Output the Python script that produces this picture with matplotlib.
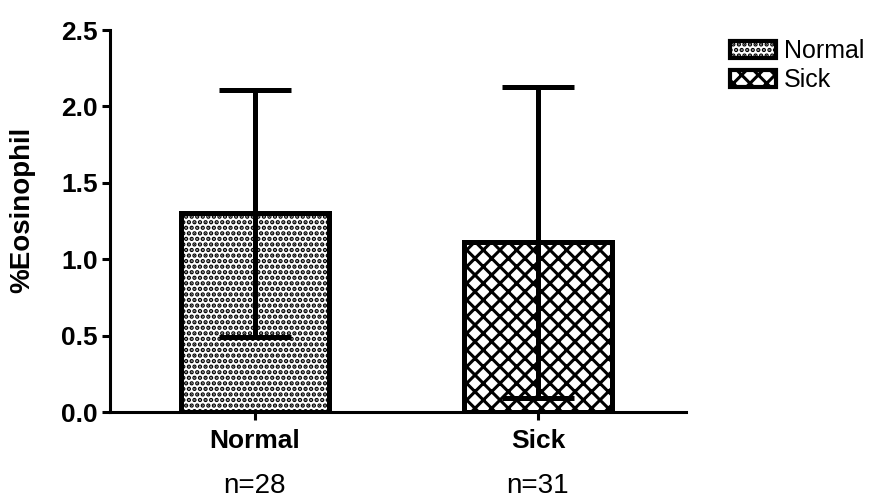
import matplotlib
matplotlib.use("Agg")
import matplotlib.pyplot as plt
from matplotlib.patches import Patch
from matplotlib.transforms import blended_transform_factory

categories = ["Normal", "Sick"]
means = [1.30, 1.11]
sds = [0.81, 1.02]
n_labels = ["n=28", "n=31"]
hatches = ["...", "xx"]
yticks = [0.0, 0.5, 1.0, 1.5, 2.0, 2.5]
ytick_labels = ["0.0", "0.5", "1.0", "1.5", "2.0", "2.5"]
ylabel = "%Eosinophil"

plt.rcParams["font.family"] = ["Liberation Sans", "DejaVu Sans"]
plt.rcParams["hatch.linewidth"] = 2.2
plt.rcParams["hatch.color"] = "black"

fig = plt.figure(figsize=(8.88, 5.04), dpi=100)
ax = fig.add_axes([110/888, 1-412/504, 576/888, 382/504])

x = list(range(len(categories)))
for xi, m, h in zip(x, means, hatches):
    ax.bar(xi, m, width=0.52, color="white", edgecolor="black",
           linewidth=3.6, hatch=h, zorder=2)
ax.errorbar(x, means, yerr=sds, fmt="none", ecolor="black",
            elinewidth=3.6, capsize=26, capthick=3.6, zorder=3)

ax.set_xlim(-0.512, 1.523)
ax.set_ylim(0, 2.5)
ax.set_yticks(yticks)
ax.set_yticklabels(ytick_labels, fontsize=19, fontweight="bold")
ax.set_xticks(x)
ax.set_xticklabels(categories, fontsize=19, fontweight="bold")

for s in ["top", "right"]:
    ax.spines[s].set_visible(False)
for s in ["left", "bottom"]:
    ax.spines[s].set_linewidth(2.2)
ax.tick_params(axis="y", length=6, width=2.2, pad=3)
ax.tick_params(axis="x", length=6, width=2.2, pad=6)

fig.text(22/888, 1-210/504, ylabel, rotation=90, ha="center", va="center",
         fontsize=20, fontweight="bold")

tr = blended_transform_factory(ax.transData, ax.transAxes)
for xi, lab in zip(x, n_labels):
    ax.text(xi, -0.195, lab, transform=tr, ha="center", va="center", fontsize=20)

handles = [Patch(facecolor="white", edgecolor="black", linewidth=3.0, hatch=h,
                 label=c) for c, h in zip(categories, hatches)]
fig.legend(handles=handles, loc="upper left", bbox_to_anchor=(720/888, 1-29/504),
           frameon=False, fontsize=18, handlelength=1.85, handleheight=0.65,
           handletextpad=0.3, labelspacing=0.2, borderaxespad=0)

fig.savefig("out.png", dpi=100)
